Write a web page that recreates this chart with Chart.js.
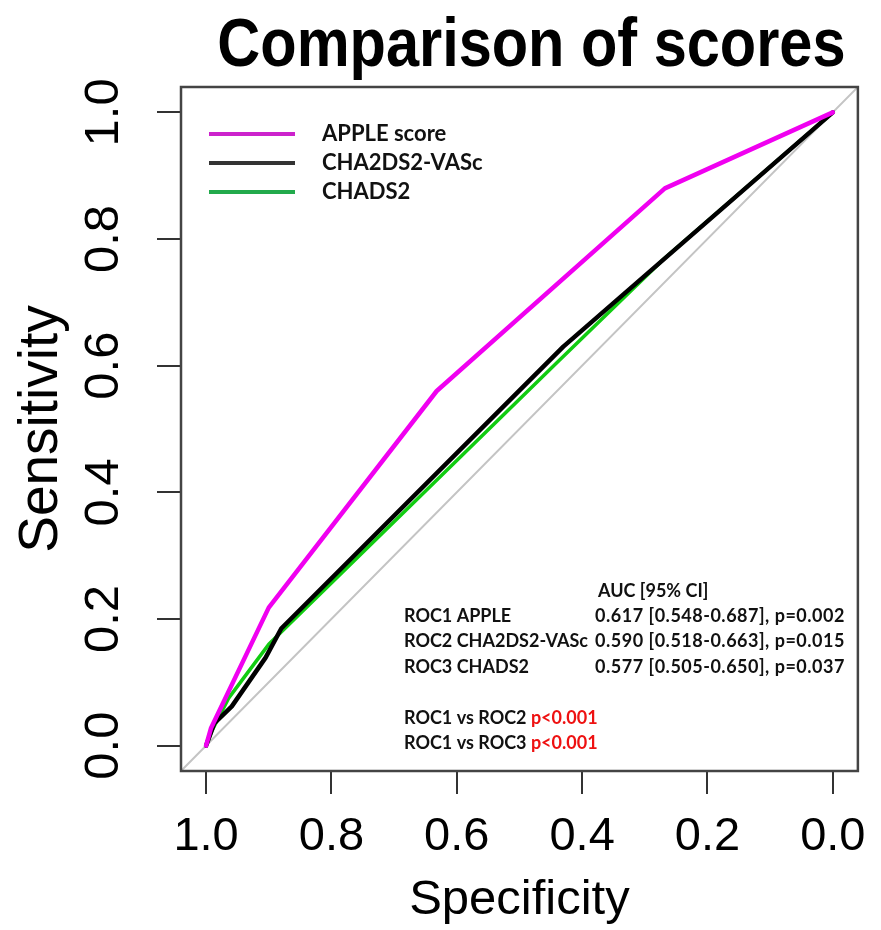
<!DOCTYPE html>
<html><head><meta charset="utf-8">
<script src="https://cdn.jsdelivr.net/npm/chart.js@4.4.1/dist/chart.umd.min.js"></script>
<style>html,body{margin:0;padding:0;background:#fff}canvas{display:block}</style>
</head><body>
<canvas id="c" width="881" height="930"></canvas>
<script>
const chartTitle = 'Comparison of scores';
const xAxisTitle = 'Specificity';
const yAxisTitle = 'Sensitivity';
const tickValues = [1.0, 0.8, 0.6, 0.4, 0.2, 0.0];
const tickLabels = ['1.0', '0.8', '0.6', '0.4', '0.2', '0.0'];
const seriesNames = ['APPLE score', 'CHA2DS2-VASc', 'CHADS2'];
const appleSpec = [1.0, 0.992, 0.900, 0.632, 0.268, 0.0];
const appleSens = [0.0, 0.028, 0.218, 0.560, 0.880, 1.0];
const chaVascSpec = [1.0, 0.987, 0.959, 0.905, 0.880, 0.430, 0.0];
const chaVascSens = [0.0, 0.035, 0.062, 0.139, 0.185, 0.630, 1.0];
const chadsSpec = [1.0, 0.990, 0.964, 0.900, 0.440, 0.268, 0.0];
const chadsSens = [0.0, 0.025, 0.075, 0.160, 0.605, 0.770, 1.0];
const refSpec = [1.04, -0.04];
const refSens = [-0.04, 1.04];
const aucHeader = 'AUC [95% CI]';
const aucNames = ['ROC1 APPLE', 'ROC2 CHA2DS2-VASc', 'ROC3 CHADS2'];
const aucValues = ['0.617 [0.548-0.687], p=0.002', '0.590 [0.518-0.663], p=0.015', '0.577 [0.505-0.650], p=0.037'];
const compNames = ['ROC1 vs ROC2 ', 'ROC1 vs ROC3 '];
const compP = ['p<0.001', 'p<0.001'];

const lineColors = ['#f000f0', '#000000', '#11cc11'];
const legendColors = ['#cc22cc', '#333333', '#22aa4c'];

function pts(xs, ys) { return xs.map((x, i) => ({x: x, y: ys[i]})); }

const sans = "'Liberation Sans', Arial, sans-serif";
const noteFont = "Lato, 'Open Sans', sans-serif";

const decor = {
  id: 'decor',
  afterDraw(chart) {
    const ctx = chart.ctx, a = chart.chartArea;
    ctx.save();
    ctx.fillStyle = '#000';
    ctx.font = 'bold 68px ' + sans;
    ctx.textAlign = 'center';
    ctx.textBaseline = 'alphabetic';
    ctx.translate((a.left + a.right) / 2 + 12, 66);
    ctx.scale(0.875, 1);
    ctx.fillText(chartTitle, 0, 0);
    ctx.restore();
  },
  afterDatasetsDraw(chart) {
    const ctx = chart.ctx, a = chart.chartArea;
    ctx.save();
    ctx.strokeStyle = '#444';
    ctx.lineWidth = 2.5;
    ctx.strokeRect(a.left, a.top, a.right - a.left, a.bottom - a.top);
    // legend
    ctx.textBaseline = 'middle';
    ctx.textAlign = 'left';
    ctx.font = 'bold 22px ' + noteFont;
    seriesNames.forEach((name, i) => {
      const y = a.top + 47 + i * 29;
      ctx.strokeStyle = legendColors[i];
      ctx.lineWidth = 4;
      ctx.beginPath();
      ctx.moveTo(a.left + 28, y);
      ctx.lineTo(a.left + 114, y);
      ctx.stroke();
      ctx.fillStyle = '#111';
      ctx.fillText(name, a.left + 141, y);
    });
    // AUC annotation
    ctx.font = 'bold 18px ' + noteFont;
    ctx.fillStyle = '#111';
    const lx = a.left + 223, rx = a.right - 13;
    ctx.fillText(aucHeader, a.left + 417, a.bottom - 180);
    aucNames.forEach((n, i) => {
      const y = a.bottom - 155 + i * 25.5;
      ctx.textAlign = 'left';
      ctx.letterSpacing = '0px';
      ctx.fillText(n, lx, y);
      ctx.textAlign = 'right';
      ctx.letterSpacing = '0.5px';
      ctx.fillText(aucValues[i], rx, y);
    });
    ctx.letterSpacing = '0px';
    ctx.textAlign = 'left';
    compNames.forEach((n, i) => {
      const y = a.bottom - 53 + i * 25;
      ctx.fillStyle = '#111';
      ctx.fillText(n, lx, y);
      const w = ctx.measureText(n).width;
      ctx.fillStyle = '#ee1111';
      ctx.fillText(compP[i], lx + w, y);
    });
    ctx.restore();
  }
};

new Chart(document.getElementById('c'), {
  type: 'scatter',
  data: {
    datasets: [
      {label: seriesNames[0], data: pts(appleSpec, appleSens), borderColor: lineColors[0], borderWidth: 4.5},
      {label: seriesNames[1], data: pts(chaVascSpec, chaVascSens), borderColor: lineColors[1], borderWidth: 4.5},
      {label: seriesNames[2], data: pts(chadsSpec, chadsSens), borderColor: lineColors[2], borderWidth: 3.5},
      {label: 'reference', data: pts(refSpec, refSens), borderColor: '#c4c4c4', borderWidth: 2}
    ].map(d => Object.assign(d, {showLine: true, pointRadius: 0, tension: 0, fill: false, borderJoinStyle: 'round', borderCapStyle: 'round'}))
  },
  options: {
    responsive: false,
    animation: false,
    events: [],
    layout: {padding: {left: 0, right: 14, top: 87, bottom: 0}},
    plugins: {
      legend: {display: false},
      tooltip: {enabled: false},
      title: {display: false, text: chartTitle}
    },
    scales: {
      x: {
        type: 'linear', reverse: true, min: -0.04, max: 1.04,
        afterBuildTicks: s => { s.ticks = tickValues.map(v => ({value: v})); },
        afterFit: s => { s.height = 159; },
        grid: {display: true, drawOnChartArea: false, drawTicks: true, tickLength: 23, color: '#333', lineWidth: 2},
        border: {display: false},
        ticks: {
          autoSkip: false, maxRotation: 0, minRotation: 0, padding: 15, color: '#000',
          font: {family: sans, size: 47},
          callback: (v, i) => tickLabels[i]
        },
        title: {display: true, text: xAxisTitle, color: '#000', font: {family: sans, size: 49}, padding: {top: 0, bottom: 0}}
      },
      y: {
        type: 'linear', min: -0.04, max: 1.04,
        afterBuildTicks: s => { s.ticks = tickValues.map(v => ({value: v})); },
        afterFit: s => { s.width = 181; },
        grid: {display: true, drawOnChartArea: false, drawTicks: true, tickLength: 24, color: '#333', lineWidth: 2},
        border: {display: false},
        ticks: {
          autoSkip: false, minRotation: 90, maxRotation: 90, crossAlign: 'center', padding: 18, color: '#000',
          font: {family: sans, size: 49},
          callback: (v, i) => tickLabels[i]
        },
        title: {display: true, text: yAxisTitle, color: '#000', font: {family: sans, size: 55}, padding: {top: 9, bottom: 0}}
      }
    }
  },
  plugins: [decor]
});
</script>
</body></html>
